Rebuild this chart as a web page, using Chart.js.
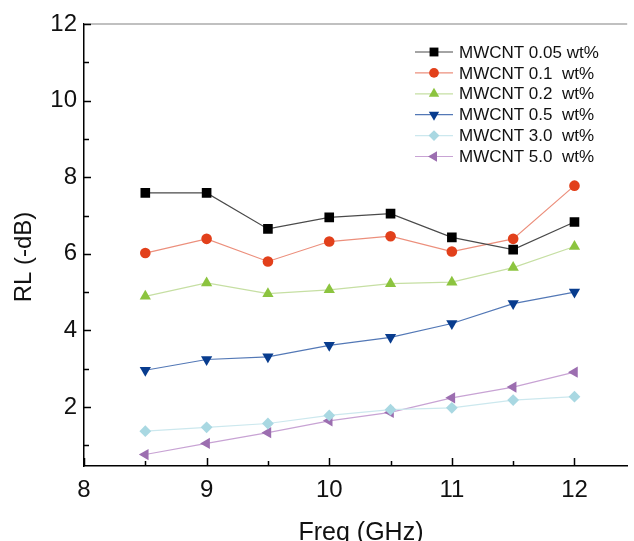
<!DOCTYPE html>
<html>
<head>
<meta charset="utf-8">
<title>RL vs Freq</title>
<script src="https://cdn.jsdelivr.net/npm/chart.js@4.4.1/dist/chart.umd.min.js"></script>
<style>
  html, body { margin: 0; padding: 0; background: #fff; }
  canvas { display: block; }
</style>
</head>
<body>
<canvas id="rlChart" width="634" height="541"></canvas>
<script>
// frequency points (GHz) and reflection loss (-dB) per loading
const freq = [8.5, 9, 9.5, 10, 10.5, 11, 11.5, 12];
const rl005 = [7.59, 7.59, 6.65, 6.95, 7.05, 6.43, 6.11, 6.83];
const rl01 = [6.02, 6.39, 5.80, 6.32, 6.46, 6.06, 6.39, 7.78];
const rl02 = [4.89, 5.24, 4.96, 5.06, 5.22, 5.26, 5.64, 6.19];
const rl05 = [2.96, 3.24, 3.31, 3.61, 3.82, 4.18, 4.70, 5.00];
const rl30 = [1.37, 1.47, 1.57, 1.78, 1.93, 1.98, 2.18, 2.27];
const rl50 = [0.76, 1.05, 1.33, 1.64, 1.86, 2.24, 2.52, 2.91];

const seriesLabels = [
  'MWCNT 0.05 wt%',
  'MWCNT 0.1  wt%',
  'MWCNT 0.2  wt%',
  'MWCNT 0.5  wt%',
  'MWCNT 3.0  wt%',
  'MWCNT 5.0  wt%'
];

const xTicks = [8, 9, 10, 11, 12];
const xMinor = [8.5, 9.5, 10.5, 11.5];
const yTicks = [2, 4, 6, 8, 10, 12];
const yMinor = [1, 3, 5, 7, 9, 11];

const FONT = '"Liberation Sans", Arial, Helvetica, sans-serif';

const styles = [
  { marker: '#000000', line: '#4a4a4a', pointStyle: 'rect', rotation: 0, radius: 6.8 },
  { marker: '#e2401b', line: '#ec8f7c', pointStyle: 'circle', rotation: 0, radius: 5.3 },
  { marker: '#8cc43f', line: '#c6dfa3', pointStyle: 'triangle', rotation: 0, radius: 6.5 },
  { marker: '#083c8e', line: '#5378b6', pointStyle: 'triangle', rotation: 180, radius: 6.5 },
  { marker: '#a9d8e2', line: '#cce8ee', pointStyle: 'rectRot', rotation: 0, radius: 5.9 },
  { marker: '#9c6eb0', line: '#c8a3d4', pointStyle: 'triangle', rotation: -90, radius: 6.5 }
];

const values = [rl005, rl01, rl02, rl05, rl30, rl50];

const datasets = values.map((arr, i) => ({
  label: seriesLabels[i],
  data: freq.map((f, j) => ({ x: f, y: arr[j] })),
  borderColor: styles[i].line,
  borderWidth: 1.2,
  pointStyle: styles[i].pointStyle,
  rotation: styles[i].rotation,
  pointRadius: styles[i].radius,
  pointBackgroundColor: styles[i].marker,
  pointBorderColor: styles[i].marker,
  pointBorderWidth: 0,
  tension: 0
}));

// top frame line, inward ticks, axis titles and the line+marker legend
const decorPlugin = {
  id: 'decor',
  afterDatasetsDraw(chart) {
    const { ctx, chartArea: a, scales: { x, y } } = chart;
    ctx.save();
    ctx.strokeStyle = '#ababab';
    ctx.lineWidth = 1.5;
    ctx.beginPath();
    ctx.moveTo(a.left, a.top);
    ctx.lineTo(a.right, a.top);
    ctx.stroke();

    ctx.strokeStyle = '#000';
    ctx.lineWidth = 1.5;
    ctx.beginPath();
    xTicks.forEach(v => {
      const px = Math.round(x.getPixelForValue(v)) + 0.5;
      ctx.moveTo(px, a.bottom); ctx.lineTo(px, a.bottom - 8);
    });
    xMinor.forEach(v => {
      const px = Math.round(x.getPixelForValue(v)) + 0.5;
      ctx.moveTo(px, a.bottom); ctx.lineTo(px, a.bottom - 5);
    });
    yTicks.forEach(v => {
      const py = Math.round(y.getPixelForValue(v)) + 0.5;
      ctx.moveTo(a.left, py); ctx.lineTo(a.left + 7, py);
    });
    yMinor.forEach(v => {
      const py = Math.round(y.getPixelForValue(v)) + 0.5;
      ctx.moveTo(a.left, py); ctx.lineTo(a.left + 5, py);
    });
    ctx.stroke();
    ctx.restore();
  },
  afterDraw(chart) {
    const { ctx } = chart;
    ctx.save();
    ctx.fillStyle = '#111';

    ctx.font = '25px ' + FONT;
    ctx.textAlign = 'center';
    ctx.textBaseline = 'alphabetic';
    ctx.fillText('Freq (GHz)', 361, 540);

    ctx.save();
    ctx.translate(31, 257);
    ctx.rotate(-Math.PI / 2);
    ctx.font = '24px ' + FONT;
    ctx.fillText('RL (-dB)', 0, 0);
    ctx.restore();

    // legend
    const rowY0 = 52, rowGap = 20.9;
    ctx.font = '17px ' + FONT;
    ctx.textAlign = 'left';
    ctx.textBaseline = 'middle';
    seriesLabels.forEach((lbl, i) => {
      const yy = rowY0 + i * rowGap;
      const s = styles[i];
      ctx.strokeStyle = s.line;
      ctx.lineWidth = 1.2;
      ctx.beginPath();
      ctx.moveTo(415, yy); ctx.lineTo(453, yy);
      ctx.stroke();
      ctx.fillStyle = s.marker;
      Chart.helpers.drawPoint(ctx, {
        pointStyle: s.pointStyle, rotation: s.rotation,
        radius: s.radius * 0.92, borderWidth: 0
      }, 434, yy);
      ctx.fillStyle = '#111';
      ctx.fillText(lbl, 459, yy + 1);
    });
    ctx.restore();
  }
};

new Chart(document.getElementById('rlChart'), {
  type: 'line',
  data: { datasets },
  options: {
    responsive: false,
    animation: false,
    devicePixelRatio: 1,
    layout: { padding: { top: 24, right: 0, left: 0, bottom: 0 } },
    plugins: {
      legend: { display: false },
      tooltip: { enabled: false },
      title: { display: false }
    },
    scales: {
      x: {
        type: 'linear',
        min: 8,
        max: 12.43,
        grid: { display: false, drawTicks: false },
        border: { display: true, color: '#000', width: 1.5 },
        ticks: {
          color: '#111',
          font: { family: FONT, size: 24 },
          padding: 10,
          maxRotation: 0
        },
        afterBuildTicks: s => { s.ticks = xTicks.map(v => ({ value: v })); },
        afterFit: s => { s.height = 75; s.paddingLeft = 0; s.paddingRight = 0; }
      },
      y: {
        type: 'linear',
        min: 0.46,
        max: 12,
        grid: { display: false, drawTicks: false },
        border: { display: true, color: '#000', width: 1.5 },
        ticks: {
          color: '#111',
          font: { family: FONT, size: 24 },
          padding: 7
        },
        afterBuildTicks: s => { s.ticks = yTicks.map(v => ({ value: v })); },
        afterFit: s => { s.width = 84; s.paddingTop = 0; s.paddingBottom = 0; }
      }
    }
  },
  plugins: [decorPlugin]
});
</script>
</body>
</html>
